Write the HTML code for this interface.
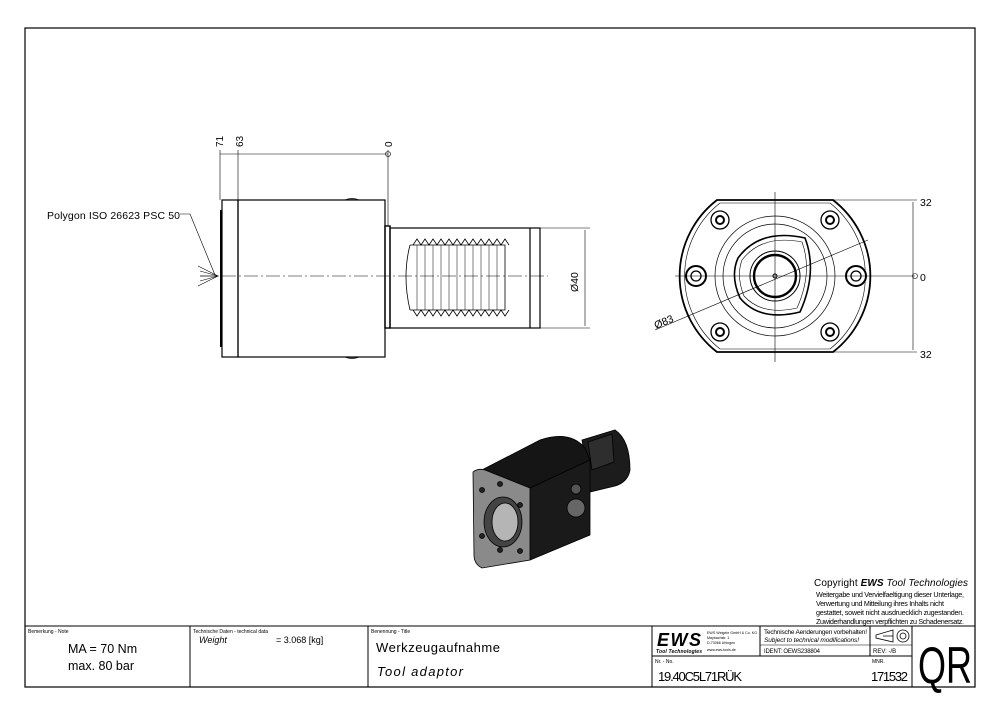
<!DOCTYPE html>
<html><head><meta charset="utf-8"><style>
body{margin:0;background:#fff}
svg{display:block}
text{font-family:"Liberation Sans",sans-serif;fill:#000}
</style></head><body>
<svg width="1000" height="715" viewBox="0 0 1000 715" xmlns="http://www.w3.org/2000/svg">
<rect x="25" y="28" width="950" height="659" fill="none" stroke="#000" stroke-width="1.2"/>
<!-- Side view -->
<g stroke="#000" fill="none" stroke-width="1.2">
<line x1="200" y1="276" x2="548" y2="276" stroke-dasharray="14,3,2,3" stroke-width="0.6"/>
<rect x="222" y="200" width="16" height="157"/>
<line x1="221" y1="210" x2="221" y2="347" stroke-width="2"/>
<rect x="238" y="200" width="147" height="157"/>
<rect x="385" y="226" width="5" height="102" stroke-width="1.4"/>
<rect x="390" y="228" width="150" height="100"/>
<line x1="530" y1="228" x2="530" y2="328"/>
<path d="M410 245 Q402 276 410 310" stroke-width="0.8"/>
<path d="M410 245 L505 245 L505 310 L410 310" stroke-width="0.8"/>
<path d="M413 245 l4 -6 l4 6 l4 -6 l4 6 l4 -6 l4 6 l4 -6 l4 6 l4 -6 l4 6 l4 -6 l4 6 l4 -6 l4 6 l4 -6 l4 6 l4 -6 l4 6 l4 -6 l4 6 l4 -6 l4 6 l4 -6 l4 6" stroke-width="0.8"/>
<path d="M413 310 l4 6 l4 -6 l4 6 l4 -6 l4 6 l4 -6 l4 6 l4 -6 l4 6 l4 -6 l4 6 l4 -6 l4 6 l4 -6 l4 6 l4 -6 l4 6 l4 -6 l4 6 l4 -6 l4 6 l4 -6 l4 6 l4 -6" stroke-width="0.8"/>
<g stroke-width="0.5"><line x1="417" y1="245" x2="417" y2="310"/><line x1="425" y1="245" x2="425" y2="310"/><line x1="433" y1="245" x2="433" y2="310"/><line x1="441" y1="245" x2="441" y2="310"/><line x1="449" y1="245" x2="449" y2="310"/><line x1="457" y1="245" x2="457" y2="310"/><line x1="465" y1="245" x2="465" y2="310"/><line x1="473" y1="245" x2="473" y2="310"/><line x1="481" y1="245" x2="481" y2="310"/><line x1="489" y1="245" x2="489" y2="310"/><line x1="497" y1="245" x2="497" y2="310"/></g>
<path d="M345 200 q7 -3 14 0 Z M345 357 q7 3 14 0 Z" fill="#555" stroke-width="0.8"/>
<g stroke-width="0.6">
<line x1="220" y1="150" x2="220" y2="200"/><line x1="238" y1="150" x2="238" y2="200"/><line x1="388" y1="150" x2="388" y2="226"/>
<line x1="220" y1="154" x2="388" y2="154"/>
<line x1="540" y1="228" x2="590" y2="228"/><line x1="540" y1="328" x2="590" y2="328"/><line x1="585" y1="230" x2="585" y2="326"/>
<path d="M190 214 L215 275 M180 214 H190"/>
<path d="M218 276 l-20 -10 M218 276 l-18 -5 M218 276 l-18 0 M218 276 l-18 5 M218 276 l-20 10"/>
</g>
<circle cx="388" cy="154" r="2.5" stroke-width="0.6"/>
</g>
<text x="47" y="219" font-size="10.5" textLength="133">Polygon ISO 26623 PSC 50</text>
<text font-size="10" transform="translate(223,147) rotate(-90)">71</text>
<text font-size="10" transform="translate(243,147) rotate(-90)">63</text>
<text font-size="10" transform="translate(392,147) rotate(-90)">0</text>
<text font-size="10.5" transform="translate(578,292) rotate(-90)">Ø40</text>
<!-- Front view -->
<g stroke="#000" fill="none" stroke-width="1">
<path d="M717 200 L833 200 A96 96 0 0 1 833 352 L717 352 A96 96 0 0 1 717 200 Z" stroke-width="1.8"/>
<path d="M720 203 L830 203 A93 93 0 0 1 830 349 L720 349 A93 93 0 0 1 720 203 Z" stroke-width="0.6"/>
<circle cx="775" cy="276" r="60" stroke-width="0.7"/>
<circle cx="775" cy="276" r="52" stroke-width="0.7"/>
<path d="M738 258 Q760 228 805 238 Q818 272 800 312 Q760 322 740 298 Q730 276 738 258Z" stroke-width="1.6"/>
<path d="M742 260 Q762 234 802 242 Q813 272 797 308 Q762 316 744 296 Q736 276 742 260Z" stroke-width="0.6"/>
<circle cx="775" cy="276" r="25" stroke-width="1"/>
<circle cx="775" cy="276" r="21" stroke-width="2.4"/>
<circle cx="775" cy="276" r="2"/>
<g stroke-width="0.6"><line x1="775" y1="192" x2="775" y2="362"/><line x1="675" y1="276" x2="915" y2="276"/>
<line x1="655" y1="330" x2="868" y2="240"/>
<line x1="833" y1="200" x2="917" y2="200"/><line x1="833" y1="352" x2="917" y2="352"/><line x1="913" y1="202" x2="913" y2="350"/></g>
<circle cx="915" cy="276" r="2.5" stroke-width="0.6"/>
<g stroke-width="1.3">
<circle cx="720" cy="220" r="9"/><circle cx="720" cy="220" r="4" stroke-width="2"/>
<circle cx="830" cy="220" r="9"/><circle cx="830" cy="220" r="4" stroke-width="2"/>
<circle cx="720" cy="332" r="9"/><circle cx="720" cy="332" r="4" stroke-width="2"/>
<circle cx="830" cy="332" r="9"/><circle cx="830" cy="332" r="4" stroke-width="2"/>
<circle cx="696" cy="276" r="10" stroke-width="2"/><circle cx="696" cy="276" r="5"/>
<circle cx="856" cy="276" r="10" stroke-width="2"/><circle cx="856" cy="276" r="5"/>
</g>
</g>
<text x="920" y="206" font-size="10.5">32</text>
<text x="920" y="281" font-size="10.5">0</text>
<text x="920" y="358" font-size="10.5">32</text>
<text font-size="10.5" transform="translate(656,329) rotate(-23)">Ø83</text>
<!-- Isometric -->
<g stroke="#000" stroke-width="0.8">
<path d="M582 440 L615 430 Q630 440 630 470 Q628 482 615 486 L590 492 Z" fill="#1c1c1c"/>
<path d="M588 442 L612 434 L614 462 L592 470Z" fill="#2e2e2e"/>
<path d="M478 472 L540 440 Q570 430 585 448 L590 460 L530 488 Z" fill="#151515"/>
<path d="M530 560 L530 488 L590 460 L590 535 Z" fill="#1a1a1a"/>
<path d="M473 472 Q478 468 485 470 L530 488 L530 560 L482 568 Q474 564 474 555 Z" fill="#8a8a8a"/>
<ellipse cx="503" cy="522" rx="19" ry="25" fill="#444"/>
<ellipse cx="505" cy="522" rx="13" ry="19" fill="#b5b5b5"/>
<g fill="#222"><circle cx="482" cy="490" r="2.5"/><circle cx="500" cy="484" r="2.5"/><circle cx="520" cy="505" r="2.5"/><circle cx="482" cy="536" r="2.5"/><circle cx="500" cy="550" r="2.5"/><circle cx="520" cy="551" r="2.5"/></g>
<circle cx="576" cy="508" r="9" fill="#666"/>
<circle cx="576" cy="489" r="5" fill="#555"/>
</g>
<!-- Copyright -->
<text x="814" y="586" font-size="10" textLength="154">Copyright <tspan font-weight="bold" font-style="italic">EWS</tspan> <tspan font-style="italic">Tool Technologies</tspan></text>
<g font-size="7.2"><text x="816" y="597" textLength="148">Weitergabe und Vervielfaeltigung dieser Unterlage,</text><text x="816" y="606" textLength="128">Verwertung und Mitteilung ihres Inhalts nicht</text><text x="816" y="615" textLength="148">gestattet, soweit nicht ausdruecklich zugestanden.</text><text x="816" y="624" textLength="148">Zuwiderhandlungen verpflichten zu Schadenersatz.</text></g>
<!-- Title block -->
<g stroke="#000" fill="none" stroke-width="1">
<line x1="25" y1="626" x2="975" y2="626"/>
<line x1="190" y1="626" x2="190" y2="687"/><line x1="368" y1="626" x2="368" y2="687"/>
<line x1="652" y1="626" x2="652" y2="687"/><line x1="912" y1="626" x2="912" y2="687"/>
<line x1="652" y1="656" x2="912" y2="656"/>
<line x1="760" y1="626" x2="760" y2="656"/><line x1="870" y1="626" x2="870" y2="656"/>
<line x1="760" y1="645" x2="912" y2="645" stroke-width="0.6"/>
<path d="M876 635 L893 630 L893 642 L876 638 Z M883 636 H893" stroke-width="0.8"/>
<circle cx="903" cy="636" r="6" stroke-width="0.8"/><circle cx="903" cy="636" r="3" stroke-width="0.8"/>
</g>
<g font-size="5"><text x="28" y="633">Bemerkung - Note</text><text x="193" y="633">Technische Daten - technical data</text><text x="371" y="633">Benennung - Title</text><text x="655" y="663">Nr. - No.</text><text x="872" y="663">MNR.</text></g>
<text x="68" y="653" font-size="12.5">MA = 70 Nm</text>
<text x="68" y="670" font-size="12.5">max. 80 bar</text>
<text x="199" y="643" font-size="9" font-style="italic">Weight</text>
<text x="276" y="643" font-size="9">=  3.068 [kg]</text>
<text x="376" y="652" font-size="13" textLength="124">Werkzeugaufnahme</text>
<text x="377" y="676" font-size="13" font-style="italic" textLength="86">Tool adaptor</text>
<text x="657" y="646" font-size="18" font-weight="bold" font-style="italic" textLength="44">EWS</text>
<text x="656" y="653" font-size="5" font-weight="bold" font-style="italic" textLength="46">Tool Technologies</text>
<g font-size="3.6"><text x="707" y="634" textLength="50">EWS Weigele GmbH &amp; Co. KG</text><text x="707" y="639">Maybachstr. 1</text><text x="707" y="644">D-73066 Uhingen</text><text x="707" y="651">www.ews-tools.de</text></g>
<text x="764" y="634" font-size="6.5" textLength="103">Technische Aenderungen vorbehalten!</text>
<text x="764" y="642" font-size="6.5" font-style="italic" textLength="95">Subject to technical modifications!</text>
<text x="764" y="653" font-size="6" textLength="56">IDENT:  OEWS238804</text>
<text x="873" y="653" font-size="6">REV:  -/B</text>
<text x="658" y="681" font-size="13" textLength="84">19.40C5L71RÜK</text>
<text x="871" y="681" font-size="13" textLength="37">171532</text>
<text font-size="36" transform="translate(918,683) scale(1,1.45)">QR</text>
</svg>
</body></html>
